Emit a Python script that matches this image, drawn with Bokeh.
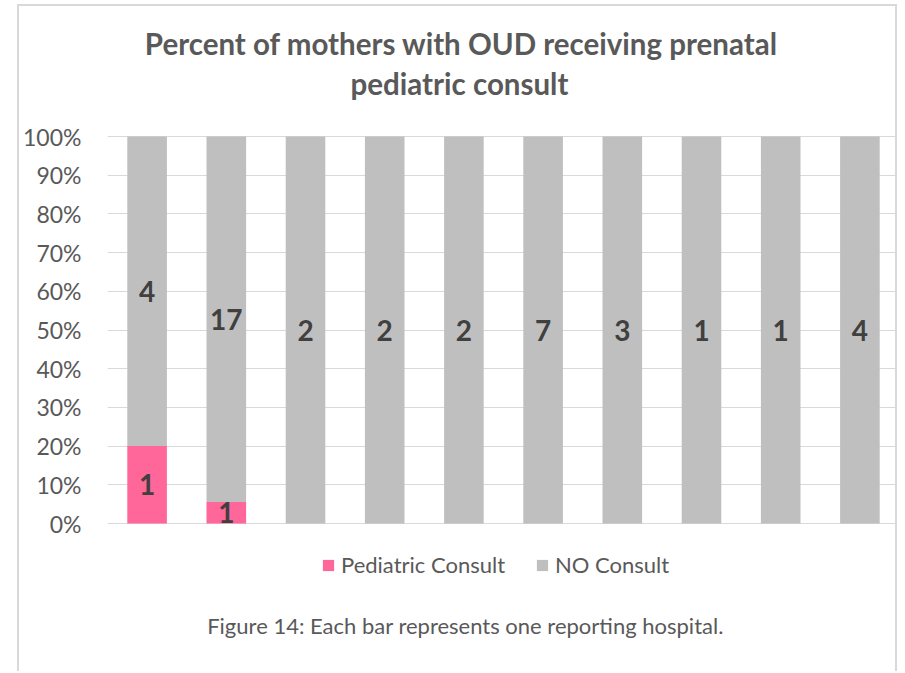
from bokeh.plotting import figure
from bokeh.models import (ColumnDataSource, Legend, LegendItem, Label,
                          NumeralTickFormatter, FixedTicker, Range1d)
from bokeh.core.properties import value
from bokeh.embed import file_html
from bokeh.resources import INLINE

# ---- data ----
hospitals = ["H1", "H2", "H3", "H4", "H5", "H6", "H7", "H8", "H9", "H10"]
pediatric_consult = [1, 1, 0, 0, 0, 0, 0, 0, 0, 0]
no_consult = [4, 17, 2, 2, 2, 7, 3, 1, 1, 4]
y_ticks = [0, 0.1, 0.2, 0.3, 0.4, 0.5, 0.6, 0.7, 0.8, 0.9, 1.0]
series_names = ["Pediatric Consult", "NO Consult"]
title_lines = ["Percent of mothers with OUD receiving prenatal", "pediatric consult"]
caption = "Figure 14: Each bar represents one reporting hospital."

PINK = "#FF6699"
GREY = "#BFBFBF"
TEXT = "#595959"
LABEL = "#404040"
FONT = "Lato"

totals = [a + b for a, b in zip(pediatric_consult, no_consult)]
ped_pct = [a / t for a, t in zip(pediatric_consult, totals)]
no_pct = [b / t for b, t in zip(no_consult, totals)]

# ---- layout (page pixels) ----
PAGE_X0, PAGE_Y0 = 19, 6          # canvas origin inside the css border
W, H = 880, 667                   # canvas size (border drawn outside it)
FRAME_L = 88                      # canvas px
FRAME_W = W - FRAME_L
Y0_PAGE, Y100_PAGE = 523, 136     # where 0% and 100% sit on the page
PX_PER_UNIT = Y0_PAGE - Y100_PAGE
BASELINE_FIX = 10                 # label baseline correction (px)


def ydata(page_y):
    return (Y0_PAGE - page_y) / PX_PER_UNIT


def xdata(page_x):
    return (page_x - (PAGE_X0 + FRAME_L)) / (FRAME_W / len(hospitals))


y_lo = ydata(PAGE_Y0 + H)
y_hi = ydata(PAGE_Y0)

src = ColumnDataSource(dict(x=hospitals, ped=ped_pct, no=no_pct))

p = figure(x_range=hospitals, y_range=Range1d(y_lo, y_hi), width=W, height=H,
           output_backend="svg", toolbar_location=None,
           min_border_left=FRAME_L, min_border_right=0, min_border_top=0, min_border_bottom=0)
p.styles = {"border": "2px solid #D9D9D9", "border-bottom": "none",
            "margin-left": "17px", "margin-top": "4px"}
p.outline_line_color = None
p.background_fill_color = "white"
p.border_fill_color = "white"
p.title.visible = False

rs = p.vbar_stack(["ped", "no"], x="x", width=0.5, source=src,
                  color=[PINK, GREY], line_color=None)

# data labels
ped_lab = ColumnDataSource(dict(
    x=[h for h, v in zip(hospitals, pediatric_consult) if v > 0],
    y=[pp / 2 for pp, v in zip(ped_pct, pediatric_consult) if v > 0],
    t=[str(v) for v in pediatric_consult if v > 0]))
no_lab = ColumnDataSource(dict(
    x=hospitals,
    y=[pp + nn / 2 for pp, nn in zip(ped_pct, no_pct)],
    t=[str(v) for v in no_consult]))
for s in (ped_lab, no_lab):
    p.text(x="x", y="y", text="t", source=s, text_align="center", text_baseline="middle",
           text_font=value(FONT), text_font_style="bold", text_font_size="28px",
           text_color=LABEL)

# axes
p.xaxis.visible = False
yax = p.yaxis[0]
yax.ticker = FixedTicker(ticks=y_ticks)
yax.formatter = NumeralTickFormatter(format="0%")
yax.axis_line_color = None
yax.major_tick_line_color = None
yax.minor_tick_line_color = None
yax.major_tick_out = 0
yax.major_tick_in = 0
yax.minor_tick_out = 0
yax.minor_tick_in = 0
yax.major_label_standoff = 26
yax.major_label_text_font = FONT
yax.major_label_text_font_size = "23px"
yax.major_label_text_color = TEXT

p.xgrid.grid_line_color = None
p.ygrid.grid_line_color = "#D9D9D9"
p.ygrid.grid_line_width = 1

# title
for txt, cx, base in zip(title_lines, [461, 459], [53, 93]):
    p.add_layout(Label(x=xdata(cx), y=ydata(base - BASELINE_FIX), text=txt,
                       text_align="center", text_baseline="alphabetic",
                       text_font=FONT, text_font_style="bold", text_font_size="29.5px",
                       text_color=TEXT))

# legend (placed below the bars, inside the frame area)
legend = Legend(items=[LegendItem(label=series_names[0], renderers=[rs[0]]),
                       LegendItem(label=series_names[1], renderers=[rs[1]])],
                orientation="horizontal", location=(321 - (PAGE_X0 + FRAME_L), 95),
                glyph_width=14, glyph_height=14, label_standoff=6, spacing=30,
                label_height=24, padding=0, margin=0, border_line_color=None,
                background_fill_alpha=0,
                label_text_font=FONT, label_text_font_size="22px", label_text_color=TEXT)
p.add_layout(legend)

# caption
p.add_layout(Label(x=xdata(465), y=ydata(635 - BASELINE_FIX), text=caption,
                   text_align="center", text_baseline="alphabetic",
                   text_font=FONT, text_font_size="22px", text_color=TEXT))

open("out.html", "w").write(file_html(p, INLINE))
